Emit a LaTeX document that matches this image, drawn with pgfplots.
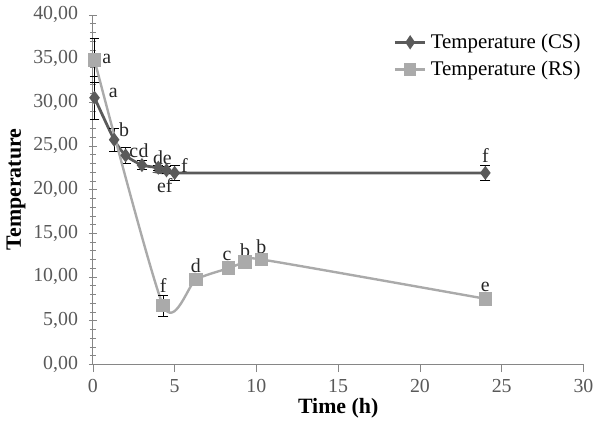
\documentclass[border=0pt]{standalone}
\usepackage{fontspec}
\setmainfont{Liberation Serif}
\usepackage{pgfplots}
\usepackage{pgfplotstable}
\pgfplotsset{compat=1.18}
\definecolor{clrCS}{RGB}{90,90,90}
\definecolor{clrRS}{RGB}{170,170,170}
\definecolor{clrTick}{RGB}{89,89,89}
\definecolor{clrAxis}{RGB}{134,134,134}

% time (h), temperature, error
\pgfplotstableread{
x y e
0.1 30.5 2.5
1.3 25.7 1.3
2.0 23.9 0.9
3.0 22.8 0.5
4.0 22.5 0.3
4.5 22.2 0.4
5.0 21.9 0.9
24.0 21.9 0.9
}\dataCS
\pgfplotstableread{
x y e
0.1 34.8 2.5
4.3 6.7 1.2
6.3 9.7 0.6
8.3 11.0 0.3
9.3 11.7 0.3
10.3 12.0 0.3
24.0 7.5 0.6
}\dataRS

\begin{document}
\begin{tikzpicture}
\begin{axis}[
  scale only axis,
  width=247pt, height=176pt,
  xmin=0, xmax=30, ymin=0, ymax=40,
  axis x line=bottom, axis y line=left,
  axis line style={-, draw=clrAxis, line width=0.6pt},
  xtick={0,5,...,30},
  ytick={0,5,...,40},
  minor y tick num=4,
  x tick style={draw=clrAxis},
  y tick style={draw=clrAxis},
  major tick length=4pt, minor tick length=3pt,
  xtick align=outside, ytick align=center,
  tick label style={font=\fontsize{10}{12}\selectfont, text=clrTick},
  yticklabel style={xshift=-2pt, /pgf/number format/.cd, fixed, fixed zerofill, precision=2, use comma},
  xticklabel style={/pgf/number format/.cd, use comma},
  /pgf/number format/assume math mode=true,
  xlabel={\textbf{Time (h)}},
  ylabel={\textbf{Temperature}},
  label style={font=\fontsize{11}{13}\selectfont},
  xlabel style={yshift=4pt},
  ylabel style={yshift=-3pt},
  legend style={at={(1.015,0.97)}, anchor=north east, draw=none, fill=none,
    font=\fontsize{10.5}{12}\selectfont, row sep=1pt},
  legend image post style={xscale=0.9},
  legend cell align=left,
  clip=false,
]
\addplot[color=clrCS, line width=1.4pt, smooth, tension=0.4,
  mark=diamond*, mark size=2.4pt, mark options={fill=clrCS, draw=clrCS},
  error bars/.cd, y dir=both, y explicit,
  error bar style={black, line width=0.6pt}, error mark options={black, rotate=90, mark size=2.5pt}]
  table[x=x, y=y, y error=e] {\dataCS};
\addlegendentry{Temperature (CS)}
\addplot[color=clrRS, line width=1.2pt, smooth, tension=0.4,
  mark=square*, mark size=2.8pt, mark options={fill=clrRS, draw=clrRS},
  error bars/.cd, y dir=both, y explicit,
  error bar style={black, line width=0.6pt}, error mark options={black, rotate=90, mark size=2.5pt}]
  table[x=x, y=y, y error=e] {\dataRS};
\addlegendentry{Temperature (RS)}

% significance letters
\begin{scope}[every node/.style={font=\fontsize{10}{12}\selectfont, inner sep=0pt, text=black!85}]
\node at (axis cs:0.85,35.0) {a};
\node at (axis cs:1.25,31.1) {a};
\node at (axis cs:1.9,26.9) {b};
\node at (axis cs:2.5,24.2) {c};
\node at (axis cs:3.1,24.4) {d};
\node at (axis cs:4.25,23.6) {de};
\node at (axis cs:5.6,22.8) {f};
\node at (axis cs:4.4,20.4) {ef};
\node at (axis cs:24.0,23.9) {f};
\node at (axis cs:4.3,9.0) {f};
\node at (axis cs:6.3,11.3) {d};
\node at (axis cs:8.2,12.4) {c};
\node at (axis cs:9.3,13.0) {b};
\node at (axis cs:10.3,13.5) {b};
\node at (axis cs:24.0,8.8) {e};
\end{scope}
\end{axis}
\end{tikzpicture}
\end{document}
